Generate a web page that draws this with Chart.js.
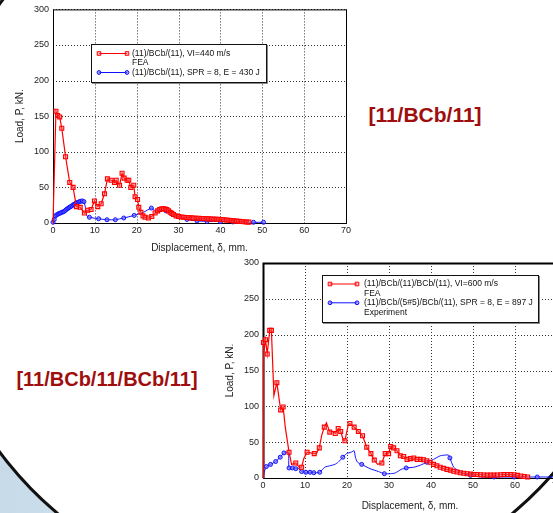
<!DOCTYPE html>
<html>
<head>
<meta charset="utf-8">
<script src="https://cdn.jsdelivr.net/npm/chart.js@4/dist/chart.umd.min.js"></script>
<style>
    html, body {
        margin: 0;
        padding: 0;
        width: 553px;
        height: 513px;
        overflow: hidden;
    }
    body {
        position: relative;
        background: linear-gradient(to right, #c6dae8 0%, #dde9f2 40%, #ffffff 80%);
    }
    .blob {
        position: absolute;
        left: -76px;
        top: -142px;
        width: 722px;
        height: 740px;
        border-radius: 50%;
        border: 3px solid #111;
        background: #fff;
        box-sizing: border-box;
    }
    canvas {
        position: absolute;
    }
    #c1 { left: 0; top: 0; }
    #c2 { left: 220px; top: 250px; }
    .tag {
        position: absolute;
        font-family: "Liberation Sans", Arial, sans-serif;
        font-weight: bold;
        color: #a00d0d;
        white-space: nowrap;
        transform: translate(-50%, -50%);
    }
</style>
</head>
<body>
<div class="blob"></div>
<canvas id="c1" width="360" height="262"></canvas>
<canvas id="c2" width="345" height="263"></canvas>
<div class="tag" style="left: 425px; top: 115px; font-size: 21px;">[11/BCb/11]</div>
<div class="tag" style="left: 107px; top: 379px; font-size: 20px;">[11/BCb/11/BCb/11]</div>

<script>
// ---- top chart: [11/BCb/11] ----
const fea1X = [0, 0.7, 1.1, 1.6, 2.1, 3.0, 4.0, 4.8, 5.6, 6.5, 7.5, 8.3, 9.1, 9.9, 10.7, 11.5, 12.3, 13.0, 13.9, 14.7,
    15.1, 15.9, 16.5, 17.0, 17.7, 18.1, 18.6, 19.3, 19.6, 20.2, 20.5, 21.0, 21.5, 22.0, 22.8, 23.6, 24.4, 25.0, 25.5, 26.0,
    26.4, 26.8, 27.2, 27.6, 28.0, 28.4, 28.8, 29.4, 30.0, 30.6, 31.2, 31.8, 32.4, 33.0, 33.6, 34.2, 34.8, 35.4, 36.0, 36.6,
    37.2, 37.8, 38.4, 39.0, 39.6, 40.2, 40.8, 41.4, 42.0, 42.6, 43.2, 43.8, 44.4, 45.0, 45.6, 46.2, 46.8];
const fea1Y = [0, 157, 151, 149, 133, 93, 57, 50, 23, 22, 14, 18, 19, 31, 23, 27, 41, 62, 60, 57,
    60, 53, 70, 63, 60, 60, 50, 53, 37, 33, 22, 15, 10, 8, 7, 9, 14, 17, 19, 20,
    20, 19.5, 19, 17, 15, 13.5, 12, 10, 9, 8.5, 8, 7.8, 7.5, 7.2, 7, 6.8, 6.6, 6.4, 6.2, 6,
    5.8, 5.6, 5.5, 5.4, 5.3, 5, 4.6, 4.2, 3.8, 3.4, 3, 2.6, 2.3, 2, 1.7, 1.4, 1.2];

const exp1X = [0, 0.3, 0.6, 0.9, 1.2, 1.5, 1.8, 2.1, 2.4, 2.7, 3.0, 3.3, 3.6, 3.9, 4.2, 4.5, 4.8, 5.1, 5.4, 5.7,
    6.0, 6.3, 6.6, 7.0, 7.4, 7.8, 8.1, 8.7, 10.9, 12.9, 14.9, 16.9, 19.4, 21.6, 23.5, 24.2, 25.2, 27.0,
    28.0, 29.6, 30.8, 32.0, 34.4, 36.8, 40.0, 43.0, 47.9, 50.3];
const exp1Y = [1, 5, 10, 11.5, 12.5, 13.5, 14, 15, 15.5, 16.5, 18, 19.5, 20.5, 22, 23, 24, 25.5, 26.5, 27.5, 28.5,
    29, 30, 30.5, 31, 30, 20, 10, 8, 6, 4.6, 4.6, 7, 10.7, 15, 21, 18, 18, 17,
    14, 10, 7, 5, 3, 2.3, 2, 1.5, 1, 1];

const fea1Legend = ['(11)/BCb/(11), VI=440 m/s', 'FEA'];
const exp1Legend = ['(11)/BCb/(11), SPR = 8, E = 430 J'];

// ---- bottom chart: [11/BCb/11/BCb/11] ----
const fea2X = [0, 0.1, 0.2, 0.6, 1.0, 1.6, 2.0, 2.6, 3.3, 4.2, 4.8, 5.3, 6.2, 6.8, 7.8, 8.6, 9.2, 9.7, 10.5, 11.3,
    12.2, 12.7, 13.4, 14.0, 14.6, 15.1, 15.9, 16.7, 17.2, 17.9, 18.5, 19.1, 19.5, 20.3, 20.7, 21.7, 22.7, 23.7, 24.7, 25.7,
    26.5, 27.3, 28.3, 29.1, 29.9, 30.4, 31.1, 31.9, 32.7, 33.5, 34.3, 35.1, 35.9, 36.7, 37.5, 38.2, 39.0, 39.8, 40.6, 41.4,
    42.2, 43.0, 43.8, 44.6, 45.4, 46.2, 47.0, 47.8, 48.6, 49.4, 50.2, 51.0, 51.8, 52.6, 53.4, 54.2, 55.0, 55.8, 56.6, 57.4,
    58.2, 59.0, 59.8, 60.6, 61.4, 62.2, 63.0];
const fea2Y = [0, 189, 173, 193, 173, 206, 206, 115, 133, 95, 99, 71, 36, 19, 21, 15, 15, 27, 36, 35,
    34, 34, 42, 60, 71, 77, 64, 65, 62, 69, 65, 53, 52, 74, 76, 71, 65, 59, 43, 34,
    25, 19, 21, 34, 34, 44, 42, 38, 31, 30, 26, 27, 28, 26, 26, 25.5, 24, 22, 19, 17,
    15, 13.5, 12, 11, 9.3, 8.3, 7.4, 6.7, 6, 5.5, 5, 4.8, 4.6, 4.3, 4, 4, 4, 4.2, 4.5, 4.8,
    5, 5, 4.6, 3.7, 2.8, 2, 1.4];

const exp2X = [0, 0.4, 0.8, 1.8, 3.0, 4.1, 5.0, 5.7, 6.1, 6.2, 7.0, 7.8, 8.6, 9.2, 10.2, 11.2, 12.1, 12.7, 13.5, 14.7,
    15.9, 17.1, 17.9, 19.0, 19.9, 21.0, 21.7, 22.0, 22.5, 23.5, 25.5, 27.5, 28.9, 30.3, 31.5, 32.9, 34.1, 35.9, 37.5, 39.0,
    40.6, 42.2, 43.4, 44.2, 44.5, 45.4, 46.4, 47.8, 49.4, 51.8, 55.0, 59.8, 65.3, 69.3];
const exp2Y = [0, 10, 16, 19, 23, 29, 35, 36, 35, 14, 14, 13, 13, 9, 8, 8, 7.4, 7.4, 8, 15,
    17, 19, 22, 29, 34, 36, 38, 29, 22, 19, 13, 9, 6, 6, 7, 12, 14, 15, 18, 22,
    26, 31, 32, 32, 28, 15, 10.7, 6, 3.7, 1.4, 1.4, 1.4, 1.4, 1.4];

const fea2Legend = ['(11)/BCb/(11)/BCb/(11), VI=600 m/s', 'FEA'];
const exp2Legend = ['(11)/BCb/(5#5)/BCb/(11), SPR = 8, E = 897 J', 'Experiment'];

const xTicks = [0, 10, 20, 30, 40, 50, 60, 70];
const yTicks = [0, 50, 100, 150, 200, 250, 300];

// points along the line that carry no marker (style only)
const fea1Bare = [0];
const exp1Bare = [25, 26, 33, 35, 36, 38, 39, 40];
const fea2Bare = [0, 2, 7, 11, 13, 15, 17, 19, 21, 23, 25, 27, 31, 33, 41];
const exp2Bare = [0, 1, 7, 8, 12, 17, 19, 20, 21, 22, 24, 25, 26, 27, 28, 30, 31, 33, 34, 35, 37, 38, 40, 41, 42, 43, 45, 46, 47, 49, 53];

const FONT = '"Liberation Sans", Arial, sans-serif';
Chart.defaults.font.family = FONT;
Chart.defaults.color = '#222';

function pairs(xs, ys) {
    return xs.map((x, i) => ({ x: x, y: ys[i] }));
}

function radiusSkip(bare, r) {
    const skip = new Set(bare);
    return ctx => skip.has(ctx.dataIndex) ? 0 : r;
}

// dotted grid from the scale ticks, then the Matlab style box
const framePlugin = {
    id: 'frame',
    beforeDatasetsDraw(chart, args, opts) {
        const a = chart.chartArea;
        const ctx = chart.ctx;
        const sx = chart.scales.x;
        const sy = chart.scales.y;
        ctx.save();
        ctx.strokeStyle = '#333';
        ctx.lineWidth = 1;
        ctx.setLineDash([1, 2]);
        ctx.beginPath();
        sx.ticks.forEach(t => {
            const px = Math.round(sx.getPixelForValue(t.value)) + 0.5;
            ctx.moveTo(px, a.top);
            ctx.lineTo(px, a.bottom);
        });
        sy.ticks.forEach(t => {
            const py = Math.round(sy.getPixelForValue(t.value)) + 0.5;
            ctx.moveTo(a.left, py);
            ctx.lineTo(a.right, py);
        });
        ctx.stroke();
        ctx.setLineDash([]);

        ctx.strokeStyle = '#000';
        ctx.strokeRect(a.left + 0.5, a.top + 0.5, a.right - a.left, a.bottom - a.top);
        if (opts.heavy) {
            ctx.lineWidth = 2;
            ctx.beginPath();
            ctx.moveTo(a.left + 0.5, a.bottom);
            ctx.lineTo(a.left + 0.5, a.top + 0.5);
            ctx.lineTo(a.right, a.top + 0.5);
            ctx.stroke();
        }
        ctx.restore();
    }
};

// boxed legend with line sample and markers at both ends
const legendBoxPlugin = {
    id: 'legendBox',
    afterDraw(chart, args, opts) {
        const ctx = chart.ctx;
        ctx.save();
        ctx.fillStyle = '#888';
        ctx.fillRect(opts.x + 1, opts.y + 1, opts.w + 1, opts.h + 1);
        ctx.fillStyle = '#fff';
        ctx.fillRect(opts.x, opts.y, opts.w, opts.h);
        ctx.strokeStyle = '#111';
        ctx.lineWidth = 1;
        ctx.strokeRect(opts.x + 0.5, opts.y + 0.5, opts.w, opts.h);

        ctx.font = opts.font;
        ctx.textBaseline = 'middle';
        let y = opts.y + opts.first;
        chart.data.datasets.forEach(ds => {
            const x0 = opts.x + opts.sampleLeft;
            const x1 = x0 + opts.sampleWidth;
            ctx.strokeStyle = ds.borderColor;
            ctx.lineWidth = 1;
            ctx.beginPath();
            ctx.moveTo(x0, y);
            ctx.lineTo(x1, y);
            ctx.stroke();
            [x0, x1].forEach(px => {
                ctx.beginPath();
                if (ds.pointStyle === 'rect') {
                    ctx.rect(px - 1.8, y - 1.8, 3.6, 3.6);
                } else {
                    ctx.arc(px, y, 1.9, 0, Math.PI * 2);
                }
                ctx.fillStyle = ds.pointBackgroundColor;
                ctx.fill();
                ctx.strokeStyle = ds.borderColor;
                ctx.stroke();
            });
            ctx.fillStyle = '#111';
            ds.legendText.forEach(line => {
                ctx.fillText(line, x1 + opts.textGap, y);
                y += opts.lineStep;
            });
        });
        ctx.restore();
    }
};

function makeChart(id, cfg) {
    const ctx = document.getElementById(id).getContext('2d');
    return new Chart(ctx, {
        type: 'line',
        data: {
            datasets: [{
                label: cfg.feaLegend[0],
                legendText: cfg.feaLegend,
                data: pairs(cfg.feaX, cfg.feaY),
                borderColor: '#ff0000',
                borderWidth: 1.2,
                pointStyle: 'rect',
                pointRadius: radiusSkip(cfg.feaBare, 2.8),
                pointBorderWidth: 1.1,
                pointBorderColor: '#ff0000',
                pointBackgroundColor: 'rgba(255,110,110,0.4)',
                tension: 0,
                clip: false
            }, {
                label: cfg.expLegend[0],
                legendText: cfg.expLegend,
                data: pairs(cfg.expX, cfg.expY),
                borderColor: '#1010ff',
                borderWidth: 1,
                pointStyle: 'circle',
                pointRadius: radiusSkip(cfg.expBare, 2),
                pointBorderWidth: 1,
                pointBorderColor: '#1010ff',
                pointBackgroundColor: 'rgba(110,110,255,0.6)',
                tension: 0.2,
                clip: false
            }]
        },
        options: {
            responsive: false,
            animation: false,
            devicePixelRatio: 1,
            layout: { padding: cfg.padding },
            plugins: {
                legend: { display: false },
                tooltip: { enabled: false },
                frame: { heavy: cfg.heavy },
                legendBox: cfg.legend
            },
            scales: {
                x: {
                    type: 'linear',
                    min: 0,
                    max: 70,
                    afterBuildTicks: s => { s.ticks = xTicks.map(v => ({ value: v })); },
                    afterFit: s => { s.height = cfg.xHeight; },
                    ticks: { font: { size: 9 }, color: '#222', padding: 2, maxRotation: 0 },
                    grid: { display: false, drawTicks: false },
                    border: { display: false },
                    title: {
                        display: true,
                        text: 'Displacement, δ, mm.',
                        font: { size: 10 },
                        color: '#222',
                        padding: { top: 0, bottom: cfg.xTitlePad }
                    }
                },
                y: {
                    type: 'linear',
                    min: 0,
                    max: 300,
                    afterBuildTicks: s => { s.ticks = yTicks.map(v => ({ value: v })); },
                    afterFit: s => { s.width = cfg.yWidth; },
                    ticks: { font: { size: 9 }, color: '#222', padding: 4 },
                    grid: { display: false, drawTicks: false },
                    border: { display: false },
                    title: {
                        display: true,
                        text: 'Load, P, kN.',
                        font: { size: 10 },
                        color: '#222',
                        padding: { top: cfg.yTitlePad, bottom: 0 }
                    }
                }
            }
        },
        plugins: [framePlugin, legendBoxPlugin]
    });
}

makeChart('c1', {
    feaX: fea1X, feaY: fea1Y, expX: exp1X, expY: exp1Y,
    feaLegend: fea1Legend, expLegend: exp1Legend,
    feaBare: fea1Bare, expBare: exp1Bare,
    padding: { left: 0, right: 14, top: 8, bottom: 0 },
    xHeight: 39, yWidth: 53, xTitlePad: 8, yTitlePad: 14,
    heavy: false,
    legend: {
        x: 91, y: 44, w: 175, h: 38,
        first: 9.5, lineStep: 9.5,
        sampleLeft: 8, sampleWidth: 28, textGap: 5,
        font: '8.5px ' + FONT
    }
});

makeChart('c2', {
    feaX: fea2X, feaY: fea2Y, expX: exp2X, expY: exp2Y,
    feaLegend: fea2Legend, expLegend: exp2Legend,
    feaBare: fea2Bare, expBare: exp2Bare,
    padding: { left: 0, right: 8, top: 13, bottom: 0 },
    xHeight: 35, yWidth: 43, xTitlePad: 1, yTitlePad: 4,
    heavy: true,
    legend: {
        x: 102, y: 25, w: 216, h: 47,
        first: 9, lineStep: 9.4,
        sampleLeft: 8, sampleWidth: 27, textGap: 7,
        font: '8.5px ' + FONT
    }
});
</script>
</body>
</html>
